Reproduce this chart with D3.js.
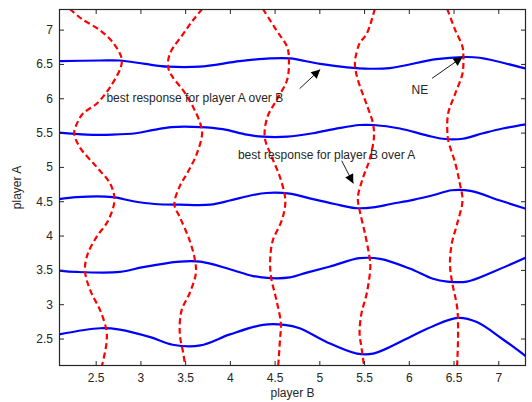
<!DOCTYPE html>
<html>
<head>
<meta charset="utf-8">
<script src="https://cdn.jsdelivr.net/npm/d3@7"></script>
<style>
  html, body { margin: 0; padding: 0; background: #fff; }
  svg { display: block; font-family: "Liberation Sans", Arial, sans-serif; }
</style>
</head>
<body>
<svg id="chart" width="532" height="402"></svg>
<script>
// Axis extents and tick values
const xDomain = [2.09, 7.31];
const yDomain = [2.1, 7.3];
const xTicks = [2.5, 3, 3.5, 4, 4.5, 5, 5.5, 6, 6.5, 7];
const yTicks = [2.5, 3, 3.5, 4, 4.5, 5, 5.5, 6, 6.5, 7];

// Best response of player A to player B: points [playerB, playerA]
const brA1 = [[2.09,6.54],[2.55,6.55],[2.77,6.55],[3.05,6.50],[3.31,6.46],[3.66,6.46],[4.11,6.54],[4.45,6.58],[4.67,6.58],[5.01,6.50],[5.31,6.45],[5.56,6.43],[5.79,6.44],[6.31,6.57],[6.60,6.60],[6.79,6.59],[7.31,6.43]];
const brA2 = [[2.09,5.50],[2.40,5.47],[2.69,5.47],[2.95,5.49],[3.15,5.54],[3.35,5.58],[3.67,5.58],[3.92,5.55],[4.19,5.47],[4.37,5.44],[4.64,5.44],[4.93,5.49],[5.20,5.56],[5.45,5.61],[5.60,5.61],[5.90,5.56],[6.20,5.46],[6.38,5.41],[6.60,5.41],[6.83,5.49],[7.05,5.56],[7.31,5.62]];
const brA3 = [[2.09,4.53],[2.29,4.56],[2.69,4.56],[2.92,4.50],[3.16,4.46],[3.44,4.45],[3.78,4.45],[4.00,4.51],[4.22,4.58],[4.41,4.62],[4.67,4.61],[4.93,4.53],[5.17,4.46],[5.40,4.40],[5.60,4.41],[5.80,4.46],[6.05,4.52],[6.28,4.59],[6.48,4.66],[6.69,4.65],[7.02,4.51],[7.31,4.39]];
const brA4 = [[2.09,3.49],[2.29,3.47],[2.77,3.47],[3.03,3.54],[3.44,3.62],[3.67,3.62],[4.00,3.51],[4.26,3.41],[4.45,3.38],[4.67,3.39],[4.86,3.46],[5.12,3.55],[5.45,3.67],[5.68,3.66],[6.01,3.52],[6.27,3.37],[6.43,3.33],[6.65,3.33],[6.94,3.47],[7.31,3.68]];
const brA5 = [[2.09,2.56],[2.55,2.65],[2.77,2.63],[3.11,2.52],[3.36,2.41],[3.67,2.40],[4.00,2.56],[4.37,2.70],[4.61,2.70],[4.78,2.65],[5.08,2.45],[5.42,2.28],[5.60,2.28],[6.01,2.52],[6.27,2.68],[6.55,2.80],[6.76,2.74],[7.05,2.49],[7.31,2.24]];

// Best response of player B to player A: points [playerB, playerA]
const brB1 = [[2.21,7.30],[2.35,7.15],[2.55,6.99],[2.70,6.80],[2.79,6.58],[2.78,6.45],[2.66,6.16],[2.51,5.92],[2.36,5.78],[2.29,5.63],[2.26,5.49],[2.32,5.29],[2.51,5.00],[2.66,4.76],[2.71,4.52],[2.64,4.22],[2.51,3.98],[2.41,3.73],[2.38,3.49],[2.44,3.20],[2.55,2.91],[2.62,2.62],[2.62,2.43],[2.57,2.10]];
const brB2 = [[3.69,7.30],[3.59,7.14],[3.48,6.94],[3.33,6.65],[3.31,6.45],[3.36,6.31],[3.48,6.11],[3.59,5.87],[3.67,5.63],[3.69,5.49],[3.63,5.19],[3.52,4.90],[3.44,4.72],[3.38,4.45],[3.44,4.27],[3.55,3.93],[3.61,3.64],[3.62,3.45],[3.55,3.16],[3.46,2.91],[3.44,2.57],[3.48,2.28],[3.50,2.10]];
const brB3 = [[4.37,7.30],[4.52,6.99],[4.64,6.75],[4.66,6.56],[4.64,6.27],[4.52,5.97],[4.42,5.73],[4.39,5.43],[4.47,5.14],[4.56,4.85],[4.62,4.51],[4.58,4.22],[4.48,3.93],[4.45,3.64],[4.46,3.40],[4.52,3.06],[4.57,2.72],[4.56,2.48],[4.54,2.10]];
const brB4 = [[5.62,7.30],[5.53,6.94],[5.45,6.80],[5.40,6.56],[5.40,6.45],[5.43,6.27],[5.54,5.87],[5.60,5.63],[5.61,5.43],[5.56,5.10],[5.49,4.85],[5.43,4.55],[5.45,4.37],[5.51,4.03],[5.56,3.69],[5.57,3.54],[5.53,3.16],[5.47,2.86],[5.45,2.57],[5.47,2.38],[5.50,2.10]];
const brB5 = [[6.43,7.30],[6.52,6.99],[6.60,6.75],[6.61,6.58],[6.60,6.36],[6.52,6.07],[6.44,5.78],[6.43,5.53],[6.44,5.39],[6.52,5.05],[6.57,4.76],[6.60,4.51],[6.54,4.17],[6.48,3.88],[6.46,3.59],[6.48,3.35],[6.54,2.96],[6.55,2.72],[6.55,2.48],[6.54,2.10]];

const responseA = [brA1, brA2, brA3, brA4, brA5];
const responseB = [brB1, brB2, brB3, brB4, brB5];

// Annotations: label, label anchor [x, y], arrow tail [x, y], arrow tip [x, y]
const noteLabels = ["best response for player A over B", "best response for player B over A", "NE"];
const noteAnchors = [[2.62, 6.0], [4.09, 5.17], [6.03, 6.13]];
const noteTails = [[4.78, 6.14], [5.25, 5.09], [6.26, 6.29]];
const noteTips = [[5.01, 6.42], [5.38, 4.76], [6.60, 6.60]];

const margin = { left: 59, right: 6, top: 9, bottom: 36 };
const W = 532, H = 402;
const svg = d3.select("#chart");

const x = d3.scaleLinear().domain(xDomain).range([margin.left, W - margin.right]);
const y = d3.scaleLinear().domain(yDomain).range([H - margin.bottom, margin.top]);

const plotW = W - margin.left - margin.right;
const plotH = H - margin.top - margin.bottom;

svg.append("defs").append("clipPath").attr("id", "plot-clip")
  .append("rect").attr("x", margin.left).attr("y", margin.top)
  .attr("width", plotW).attr("height", plotH);

svg.select("defs").append("marker")
  .attr("id", "arrowhead")
  .attr("viewBox", "0 0 10 10")
  .attr("refX", 10).attr("refY", 5)
  .attr("markerWidth", 11).attr("markerHeight", 9)
  .attr("markerUnits", "userSpaceOnUse")
  .attr("orient", "auto")
  .append("path").attr("d", "M0,0 L10,5 L0,10 z").attr("fill", "#000");

const line = d3.line().x(d => x(d[0])).y(d => y(d[1])).curve(d3.curveCatmullRom.alpha(0.5));

const plot = svg.append("g").attr("clip-path", "url(#plot-clip)");

plot.selectAll("path.brA").data(responseA).join("path")
  .attr("class", "brA")
  .attr("d", line)
  .attr("fill", "none")
  .attr("stroke", "#0000ff")
  .attr("stroke-width", 2.2);

plot.selectAll("path.brB").data(responseB).join("path")
  .attr("class", "brB")
  .attr("d", line)
  .attr("fill", "none")
  .attr("stroke", "#ff0000")
  .attr("stroke-width", 2.2)
  .attr("stroke-dasharray", "6,3.5");

// Axes: ticks point inward on all four sides
const axisColor = "#262626";
const tickLen = 5;
function styleAxis(g) {
  g.select(".domain").remove();
  g.selectAll(".tick line").attr("stroke", axisColor);
  g.selectAll(".tick text").attr("fill", "#262626").style("font-size", "12px")
    .style("font-family", "'Liberation Sans', Arial, sans-serif");
}

svg.append("g").attr("transform", `translate(0,${H - margin.bottom})`)
  .call(d3.axisBottom(x).tickValues(xTicks).tickSizeInner(-tickLen).tickSizeOuter(0).tickPadding(7).tickFormat(d3.format("")))
  .call(styleAxis);
svg.append("g").attr("transform", `translate(0,${margin.top})`)
  .call(d3.axisTop(x).tickValues(xTicks).tickSizeInner(-tickLen).tickSizeOuter(0).tickFormat(""))
  .call(styleAxis);
svg.append("g").attr("transform", `translate(${margin.left},0)`)
  .call(d3.axisLeft(y).tickValues(yTicks).tickSizeInner(-tickLen).tickSizeOuter(0).tickPadding(6).tickFormat(d3.format("")))
  .call(styleAxis);
svg.append("g").attr("transform", `translate(${W - margin.right},0)`)
  .call(d3.axisRight(y).tickValues(yTicks).tickSizeInner(-tickLen).tickSizeOuter(0).tickFormat(""))
  .call(styleAxis);

svg.append("rect")
  .attr("x", margin.left + 0.5).attr("y", margin.top + 0.5)
  .attr("width", plotW - 1).attr("height", plotH - 1)
  .attr("fill", "none").attr("stroke", axisColor).attr("stroke-width", 1.2);

// Axis titles
svg.append("text")
  .attr("x", margin.left + plotW / 2).attr("y", H - 5)
  .attr("text-anchor", "middle").attr("fill", "#262626")
  .style("font-size", "12px").text("player B");
svg.append("text")
  .attr("transform", `translate(21,${margin.top + plotH / 2}) rotate(-90)`)
  .attr("text-anchor", "middle").attr("fill", "#262626")
  .style("font-size", "12px").text("player A");

// Annotations with arrows
const notes = noteLabels.map((t, i) => ({ t, a: noteAnchors[i], s: noteTails[i], e: noteTips[i] }));
svg.selectAll("text.note").data(notes).join("text")
  .attr("class", "note")
  .attr("x", d => x(d.a[0])).attr("y", d => y(d.a[1]))
  .attr("dy", "0.35em")
  .attr("fill", "#262626")
  .style("font-size", "12px")
  .text(d => d.t);
svg.selectAll("line.note").data(notes).join("line")
  .attr("class", "note")
  .attr("x1", d => x(d.s[0])).attr("y1", d => y(d.s[1]))
  .attr("x2", d => x(d.e[0])).attr("y2", d => y(d.e[1]))
  .attr("stroke", "#000").attr("stroke-width", 0.9)
  .attr("marker-end", "url(#arrowhead)");
</script>
</body>
</html>
